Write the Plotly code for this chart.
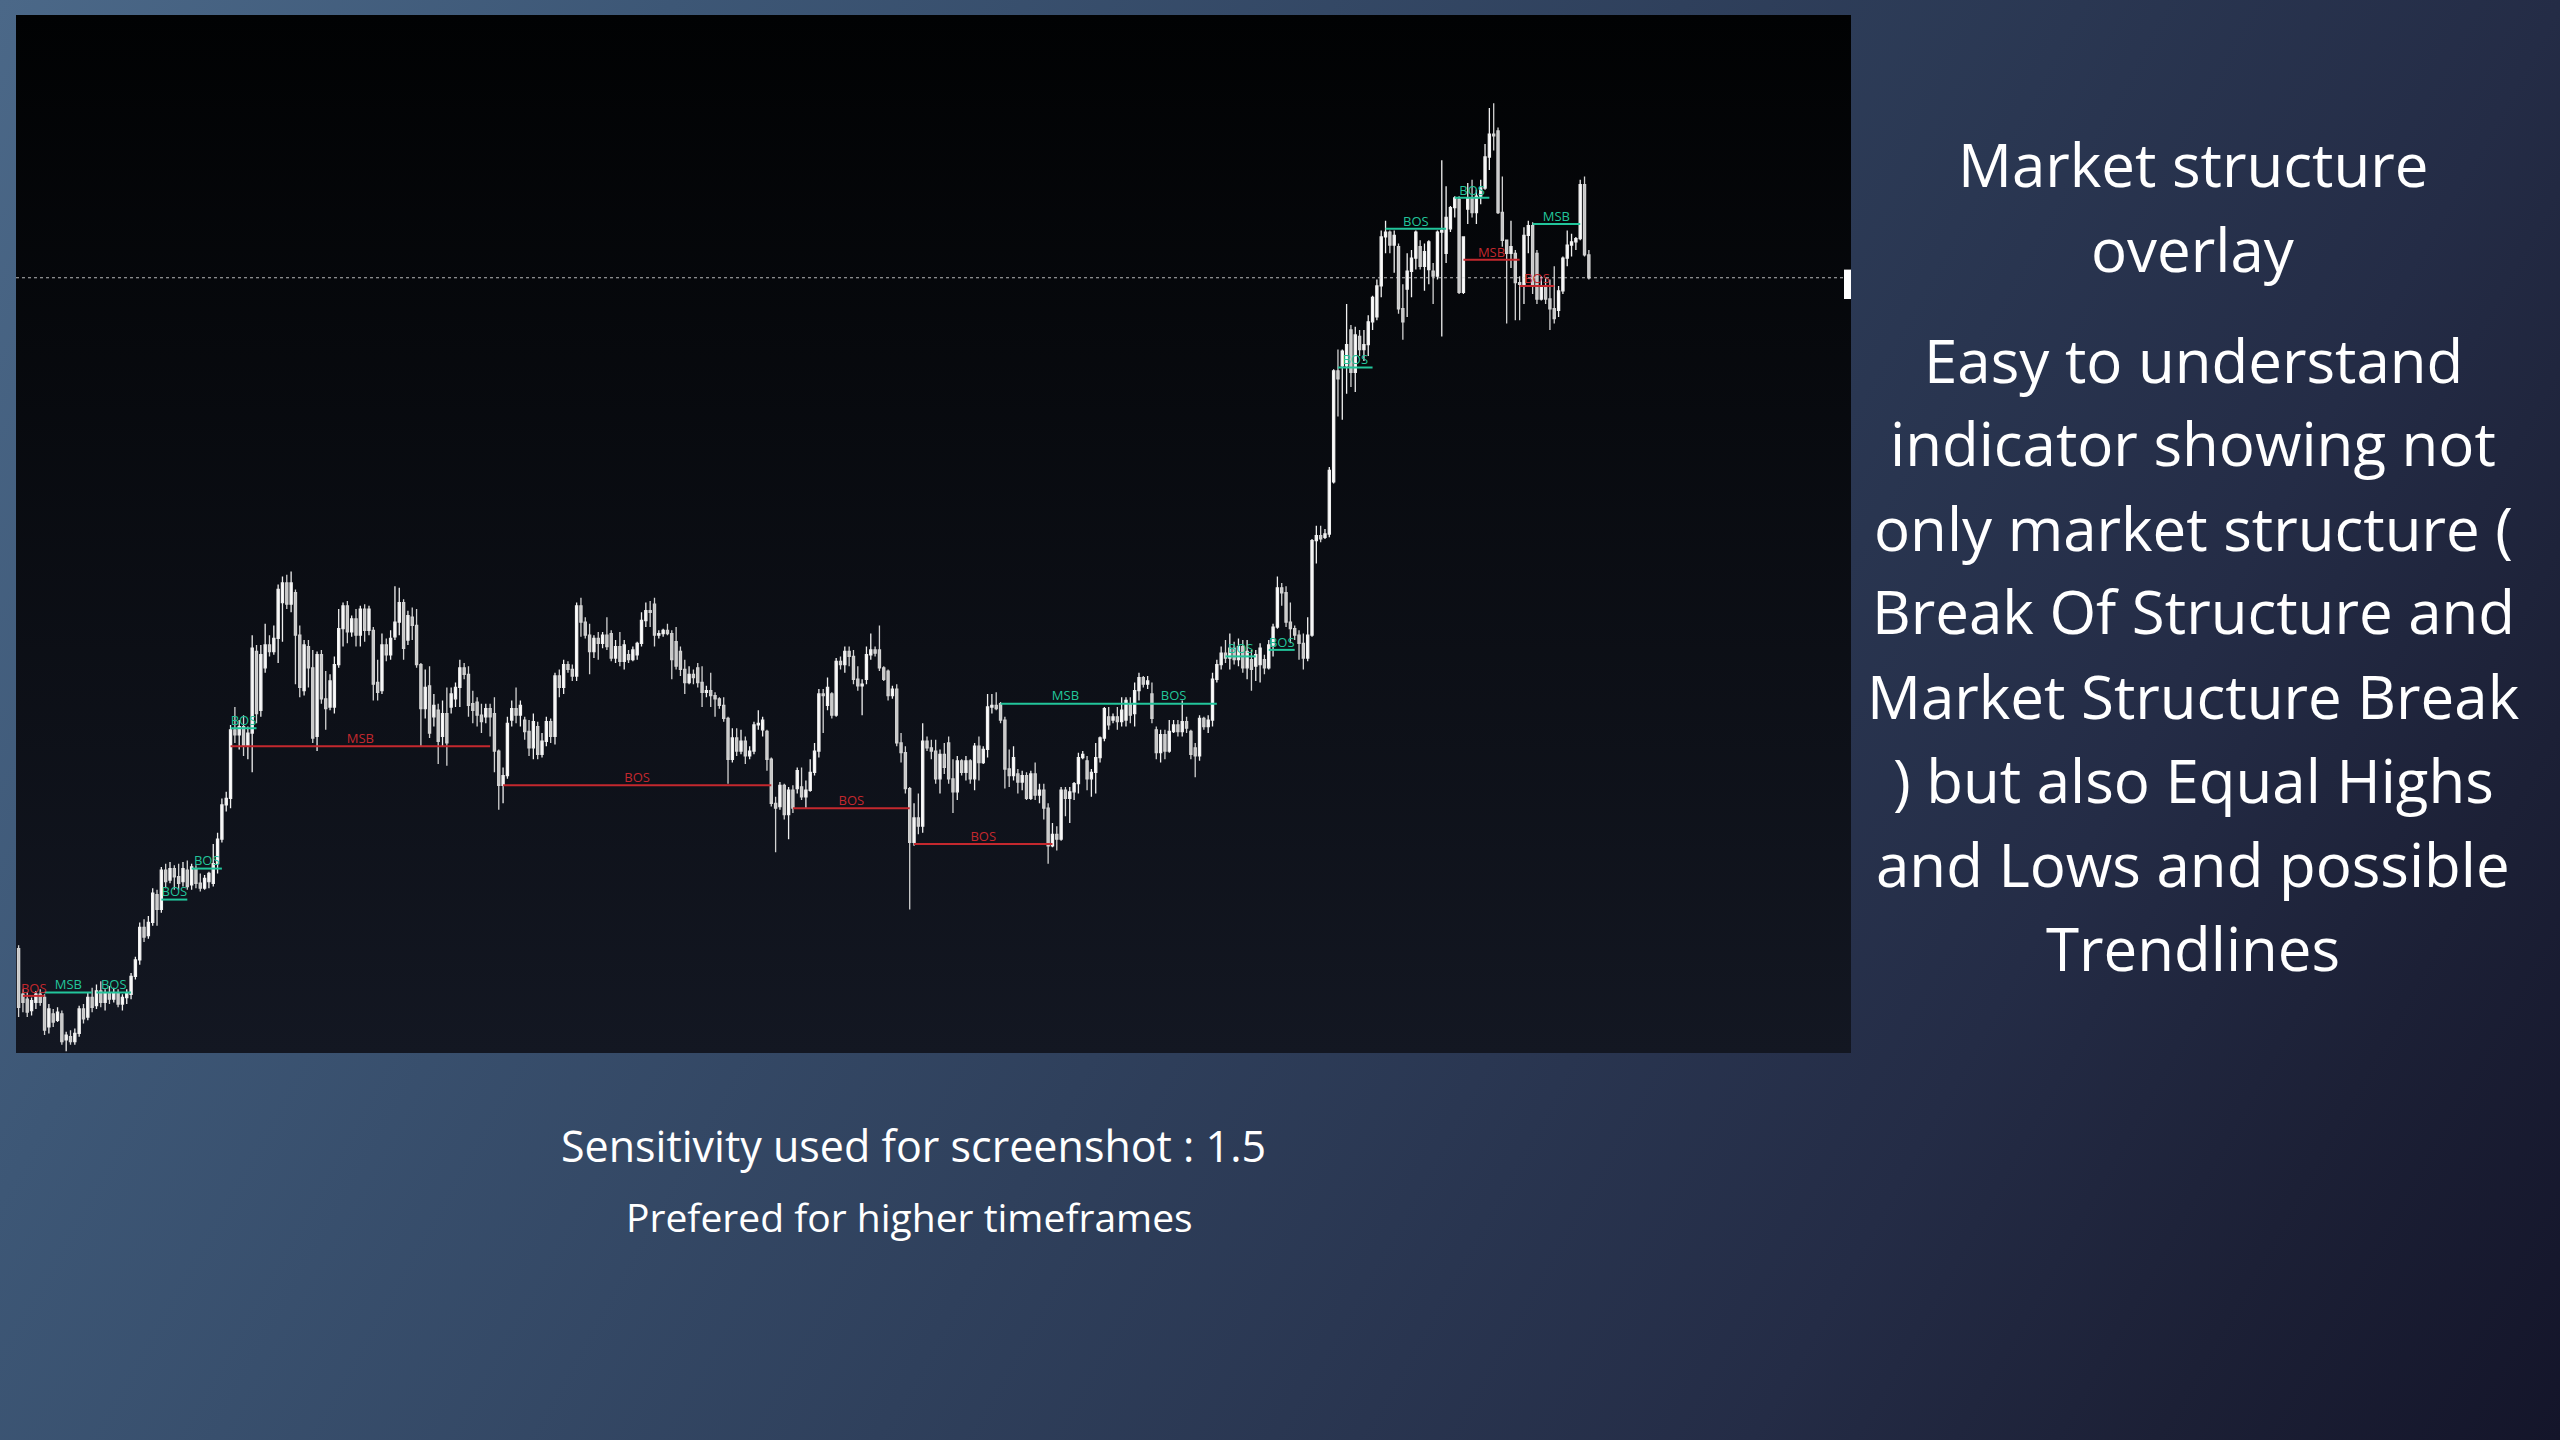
import base64
import plotly.graph_objects as go

# ---------------- candle data (price units, arbitrary) ----------------
open_ = [64,36,33,26,31,36,34,16,24,20, 24,8,10,7,12,27,22,34,29,38,
         31,37,33,37,30,34,36,47,57,77, 72,80,97,88,112,106,113,108,105,112,
         103,113,104,101,105,104,116,131,152,156, 198,195,200,188,196,246,210,236,250,246,
         254,276,288,275,282,256,222,249,236,194, 244,217,212,212,238,260,274,258,266,256,
         272,259,259,227,222,250,244,255,264,276, 253,267,262,238,211,225,206,210,194,208,
         212,217,224,236,232,214,215,207,206,211, 208,185,164,170,204,211,207,204,197,187,
         200,183,191,203,194,231,224,238,235,231, 274,264,256,246,254,251,256,257,242,249,
         240,244,241,244,251,265,271,275,256,257, 259,257,252,246,235,227,232,236,227,221,
         222,219,217,213,205,180,193,185,191,182, 185,201,198,197,180,153,151,164,146,161,
         162,163,157,161,172,185,220,213,220,207, 240,238,246,243,229,225,229,244,247,247,
         236,234,219,223,190,184,162,129,144,139, 191,187,185,168,183,190,168,160,179,172,
         179,168,188,178,186,212,213,214,204,174, 170,171,166,170,156,171,158,161,150,127,
         134,131,161,156,160,165,181,179,168,172, 181,193,206,204,206,203,204,214,208,222,
         230,226,220,198,184,195,185,197,201,197, 203,197,187,182,205,200,204,229,238,245,
         242,248,241,249,236,241,237,238,241,236, 250,261,285,282,264,260,256,251,242,256,
         314,317,316,318,350,418,421,421,443,417, 439,431,434,448,451,470,500,503,495,494,
         456,468,479,487,494,482,480,479,476,503, 490,505,518,523,466,517,524,515,525,530,
         549,563,565,515,498,490,490,472,471,501, 507,490,462,470,462,456,455,467,487,495,
         497,499,532,489]
high = [66,39,37,34,38,39,36,30,27,28, 26,13,14,15,29,30,37,40,42,44,
        39,41,40,39,36,39,49,59,80,82, 84,101,100,114,116,117,115,116,117,118,
        116,115,110,109,111,128,135,156,160,201, 212,204,207,200,256,250,250,263,256,262,
        287,292,293,295,284,262,253,253,247,246, 247,234,232,243,272,276,277,268,272,274,
        275,274,261,241,257,254,259,286,285,278, 271,273,272,239,235,237,220,214,216,224,
        224,227,241,239,237,222,218,214,214,214, 218,186,175,206,216,224,216,206,204,208,
        203,196,206,205,233,235,241,240,238,276, 279,267,263,256,258,258,267,259,253,258,
        253,247,249,252,270,276,277,279,259,260, 263,259,261,249,241,237,235,239,237,225,
        233,221,218,218,206,199,199,198,194,188, 203,210,206,198,181,157,166,165,163,164,
        175,175,167,180,190,223,223,230,221,242, 243,249,249,247,237,229,249,257,249,262,
        237,235,225,226,196,188,163,153,159,202, 194,192,192,186,190,194,180,182,180,182,
        180,190,194,188,220,220,221,215,206,186, 188,174,173,172,173,178,165,165,153,141,
        139,163,163,163,166,184,185,182,174,190, 194,212,212,208,212,218,218,218,227,233,
        231,231,227,200,198,198,204,204,204,216, 206,198,190,207,206,207,233,241,249,253,
        257,252,254,253,253,247,247,251,244,253, 263,292,288,286,276,262,259,257,267,315,
        323,323,321,359,419,431,431,459,446,445, 443,443,452,464,474,504,510,504,504,496,
        471,490,492,504,498,496,498,484,504,547, 531,519,525,525,500,533,535,529,535,557,
        579,582,567,537,498,510,492,476,506,510, 509,492,476,475,474,482,470,488,504,502,
        500,535,537,492]
low = [22,25,22,23,27,29,11,12,16,19, 5,1,5,5,10,18,20,25,27,28,
       26,30,31,28,26,30,33,45,54,68, 70,78,78,86,101,104,100,100,102,100,
       100,101,99,100,101,102,110,129,148,150, 190,186,182,180,172,202,206,233,243,244,
       239,252,272,270,226,218,219,224,190,185, 214,198,210,208,236,249,251,255,249,249,
       252,256,216,216,220,240,241,253,256,241, 250,253,236,188,205,193,200,177,188,176,
       208,212,212,229,206,202,200,196,202,194, 172,149,153,168,200,202,200,192,182,180,
       180,181,188,190,189,218,220,233,228,228, 255,254,232,242,241,248,247,240,239,237,
       235,239,240,241,249,261,261,249,254,255, 256,229,235,231,220,226,226,224,212,218,
       212,206,211,203,165,178,182,183,177,180, 183,198,194,173,151,123,149,143,131,147,
       159,155,150,160,170,181,196,210,205,206, 235,233,237,226,222,207,226,241,243,234,
       228,216,217,188,178,159,88,127,134,135, 185,180,165,159,171,165,147,155,170,167,
       165,161,167,177,181,208,210,202,162,163, 167,159,161,155,155,155,153,143,116,126,
       124,130,145,141,155,159,180,161,157,159, 178,191,198,202,198,200,200,202,200,216,
       224,223,202,180,178,180,184,196,194,194, 196,180,169,179,198,196,200,227,235,239,
       235,238,237,233,229,222,228,227,232,235, 243,260,274,261,251,253,241,235,240,255,
       300,313,315,316,349,390,388,404,408,405, 427,424,427,443,449,463,490,490,478,453,
       437,451,463,480,480,467,471,459,474,439, 484,503,512,465,465,508,512,508,520,529,
       541,553,514,494,447,481,449,449,459,490, 465,459,461,459,443,447,451,465,482,488,
       492,498,488,474]
close = [28,31,25,32,36,31,14,27,19,25, 7,11,7,12,27,21,34,28,38,31,
         37,33,37,30,34,37,47,57,77,71, 80,98,88,112,105,113,108,104,113,102,
         114,104,101,107,110,116,131,152,156,198, 195,200,188,196,248,208,244,250,246,254,
         284,288,275,288,256,224,250,236,193,244, 217,211,228,238,260,274,258,266,256,272,
         259,272,226,221,250,244,254,264,276,248, 268,262,238,211,224,196,213,191,208,190,
         220,224,236,232,213,210,207,203,211,206, 185,164,170,202,211,207,213,197,187,203,
         183,191,203,194,231,224,238,235,231,274, 264,256,246,254,251,256,249,242,249,240,
         250,241,247,251,265,271,270,256,257,259, 257,241,237,235,227,232,230,227,221,222,
         219,217,213,205,180,193,185,191,182,185, 201,202,204,180,153,150,164,146,161,150,
         173,157,161,172,185,220,219,224,207,240, 238,246,243,229,225,226,244,247,245,236,
         229,219,223,190,184,162,129,144,139,191, 187,185,168,183,175,168,160,179,172,179,
         168,188,178,186,212,213,211,204,174,170, 181,166,170,156,171,158,161,150,127,134,
         131,161,156,160,165,181,183,168,172,181, 193,211,201,206,203,210,216,207,222,230,
         226,228,205,184,195,185,197,201,197,203, 199,183,182,205,200,204,229,238,245,242,
         248,241,249,236,246,235,244,248,236,250, 261,285,282,264,260,256,251,242,256,314,
         317,315,318,357,418,413,430,434,417,440, 431,434,448,463,470,500,503,495,501,456,
         448,479,487,503,482,491,497,476,503,504, 512,518,524,466,500,524,515,525,530,549,
         563,562,515,498,490,494,472,471,501,507, 470,462,470,462,456,450,467,487,495,497,
         499,532,489,475]
bar = list(range(len(close)))

# ---------------- market-structure levels ----------------
lvl_start = [1, 6, 18, 33, 40, 49, 49, 112, 179, 207, 227, 257, 279, 289, 305, 316, 332, 334, 347, 350]
lvl_end   = [6, 17, 26, 39, 47, 55, 109, 174, 206, 239, 257, 277, 286, 295, 313, 330, 340, 347, 355, 361]
lvl_price = [35, 37, 37, 94, 113, 199, 188, 164, 150, 128, 214, 214, 243, 247, 420, 505, 524, 486, 470, 508]
lvl_label = ["BOS", "MSB", "BOS", "BOS", "BOS", "BOS", "MSB", "BOS", "BOS", "BOS",
             "MSB", "BOS", "BOS", "BOS", "BOS", "BOS", "BOS", "MSB", "BOS", "MSB"]
lvl_side  = ["bear", "bull", "bull", "bull", "bull", "bull", "bear", "bear", "bear", "bear",
             "bull", "bull", "bull", "bull", "bull", "bull", "bull", "bear", "bear", "bull"]

GREEN = "#22c59b"
RED = "#c4282e"

# ---------------- page geometry ----------------
W_PAGE, H_PAGE = 2560, 1440
PL, PR, PT, PB = 16, 1851, 15, 1053
PW, PH = PR - PL, PB - PT


def px(xp):
    return (xp - PL) / PW


def py(yp):
    return (PB - yp) / PH


svg = f"""<svg xmlns='http://www.w3.org/2000/svg' width='{W_PAGE}' height='{H_PAGE}' viewBox='0 0 {W_PAGE} {H_PAGE}'>
<defs>
<linearGradient id='bg' gradientUnits='userSpaceOnUse' x1='0' y1='0' x2='2560' y2='1440'>
<stop offset='0' stop-color='#4b6888'/>
<stop offset='0.2' stop-color='#3d5776'/>
<stop offset='0.5' stop-color='#2f405c'/>
<stop offset='0.76' stop-color='#242c46'/>
<stop offset='0.88' stop-color='#1c2036'/>
<stop offset='1' stop-color='#14152a'/>
</linearGradient>
<linearGradient id='pn' x1='0' y1='0' x2='0' y2='1'>
<stop offset='0' stop-color='#010203'/>
<stop offset='1' stop-color='#131722'/>
</linearGradient>
</defs>
<rect width='{W_PAGE}' height='{H_PAGE}' fill='url(#bg)'/>
<rect x='{PL}' y='{PT}' width='{PW}' height='{PH}' fill='url(#pn)'/>
</svg>"""
bg_src = "data:image/svg+xml;base64," + base64.b64encode(svg.encode()).decode()

fig = go.Figure()

fig.add_trace(go.Candlestick(
    x=bar, open=open_, high=high, low=low, close=close,
    increasing=dict(line=dict(color="#f0f0f0", width=1.3), fillcolor="#ffffff"),
    decreasing=dict(line=dict(color="#d2d2d2", width=1.3), fillcolor="#c4c4c4"),
    whiskerwidth=0, hoverinfo="skip", showlegend=False,
))

for side, col in (("bull", GREEN), ("bear", RED)):
    xs, ys, tx, ty, tt = [], [], [], [], []
    for s, e, p, lab, sd in zip(lvl_start, lvl_end, lvl_price, lvl_label, lvl_side):
        if sd != side:
            continue
        xs += [s, e, None]
        ys += [p, p, None]
        tx.append((s + e) / 2)
        ty.append(p)
        tt.append(lab)
    fig.add_trace(go.Scatter(x=xs, y=ys, mode="lines", line=dict(color=col, width=2),
                             hoverinfo="skip", showlegend=False))
    fig.add_trace(go.Scatter(x=tx, y=ty, mode="text", text=tt, textposition="top center",
                             textfont=dict(color=col, size=13, family="Open Sans"),
                             hoverinfo="skip", showlegend=False))

last = close[-1]
fig.add_shape(type="line", xref="paper", x0=0, x1=1, yref="y", y0=last, y1=last,
              line=dict(color="rgba(215,215,215,0.85)", width=1, dash="dot"))
fig.add_shape(type="rect", xref="paper", x0=1 - 7 / PW, x1=1, yref="y", y0=last - 13, y1=last + 5,
              fillcolor="#ffffff", line=dict(width=0))

# ---------------- texts ----------------
right_lines = ["Market structure", "overlay", "Easy to understand", "indicator showing not",
               "only market structure (", "Break Of Structure and", "Market Structure Break",
               ") but also Equal Highs", "and Lows and possible", "Trendlines"]
right_y = [164, 249, 360, 443, 528, 611, 696, 780, 864, 948]
annotations = []
for t, yy in zip(right_lines, right_y):
    annotations.append(dict(text=t, xref="paper", yref="paper", x=px(2193), y=py(yy),
                            xanchor="center", yanchor="middle", showarrow=False,
                            font=dict(family="Open Sans", size=60, color="#ffffff")))
bottom_lines = ["Sensitivity used for screenshot : 1.5", "Prefered for higher timeframes"]
bottom_xy = [(913, 1145), (909, 1216)]
bottom_size = [43, 39]
for t, (xx, yy), fs in zip(bottom_lines, bottom_xy, bottom_size):
    annotations.append(dict(text=t, xref="paper", yref="paper", x=px(xx), y=py(yy),
                            xanchor="center", yanchor="middle", showarrow=False,
                            font=dict(family="Open Sans", size=fs, color="#ffffff")))

fig.update_layout(
    width=W_PAGE, height=H_PAGE,
    margin=dict(l=PL, r=W_PAGE - PR, t=PT, b=H_PAGE - PB, pad=0),
    paper_bgcolor="#2c3b57", plot_bgcolor="rgba(0,0,0,0)",
    showlegend=False,
    xaxis=dict(visible=False, range=[-0.6, 423.6], rangeslider=dict(visible=False), fixedrange=True),
    yaxis=dict(visible=False, range=[0, 636], fixedrange=True),
    images=[dict(source=bg_src, xref="paper", yref="paper", x=-PL / PW, y=1 + PT / PH,
                 sizex=W_PAGE / PW, sizey=H_PAGE / PH, xanchor="left", yanchor="top",
                 sizing="stretch", layer="below")],
    annotations=annotations,
)

fig.write_html("out.html", config={"displayModeBar": False},
               post_script="document.body.style.margin='0px';document.body.style.overflow='hidden';")
